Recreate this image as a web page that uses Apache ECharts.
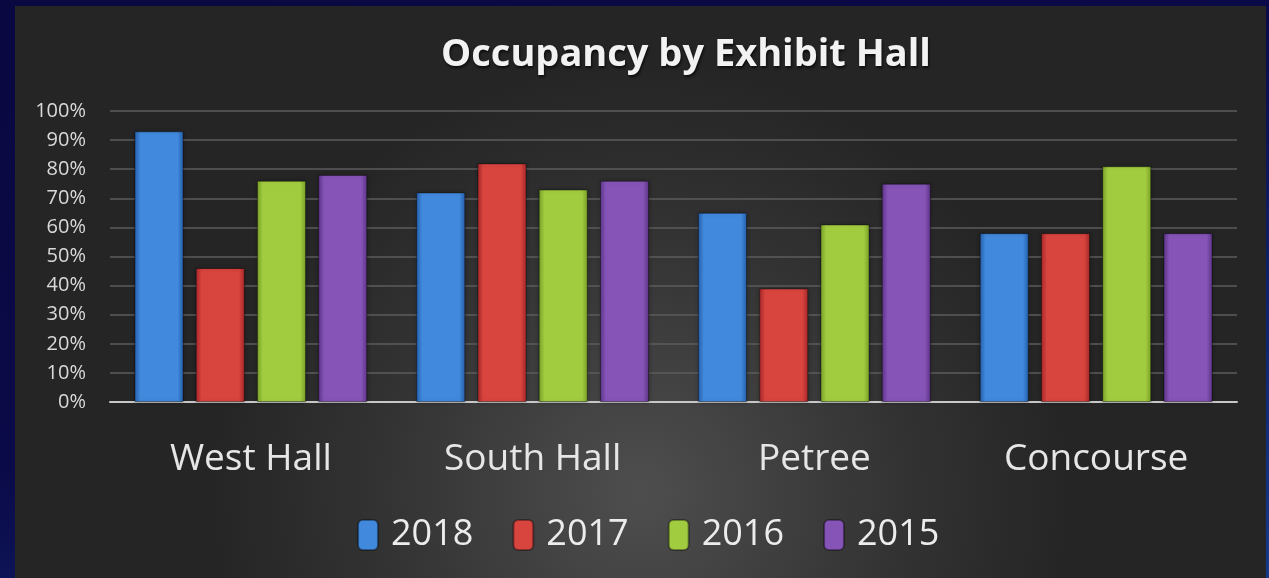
<!DOCTYPE html>
<html>
<head>
<meta charset="utf-8">
<script src="https://cdn.jsdelivr.net/npm/echarts@6/dist/echarts.min.js"></script>
<style>
  html, body {
    margin: 0;
    padding: 0;
    width: 1269px;
    height: 578px;
    overflow: hidden;
    background: linear-gradient(160deg, #0a0840 0%, #0b0a48 45%, #143a8a 100%);
  }
  #chart {
    position: absolute;
    left: 15px;
    top: 6px;
    width: 1251px;
    height: 572px;
  }
</style>
</head>
<body>
<div id="chart"></div>
<script>
// values (percent)
const halls = ["West Hall", "South Hall", "Petree", "Concourse"];
const years = ["2018", "2017", "2016", "2015"];
const occ2018 = [93, 72, 65, 58];
const occ2017 = [46, 82, 39, 58];
const occ2016 = [76, 73, 61, 81];
const occ2015 = [78, 76, 75, 58];
const yTicks = [0, 10, 20, 30, 40, 50, 60, 70, 80, 90, 100];

// [edge, middle] shades for each year
const shades = [
  ["#2660ae", "#4189dc"],
  ["#a8282a", "#d8443e"],
  ["#7aa428", "#a2cc40"],
  ["#5e358a", "#8554b6"],
];

function barFill(edge, mid) {
  return new echarts.graphic.LinearGradient(0, 0, 1, 0, [
    { offset: 0, color: edge },
    { offset: 0.12, color: mid },
    { offset: 0.88, color: mid },
    { offset: 1, color: edge },
  ]);
}

const values = [occ2018, occ2017, occ2016, occ2015];

const series = years.map((y, i) => ({
  name: y,
  type: "bar",
  data: values[i],
  barWidth: 49,
  barGap: "25%",
  itemStyle: {
    color: barFill(shades[i][0], shades[i][1]),
    borderColor: "rgba(0,0,0,0.35)",
    borderWidth: 1,
    shadowColor: "rgba(0,0,0,0.35)",
    shadowBlur: 4,
  },
}));

const chart = echarts.init(document.getElementById("chart"));

chart.setOption({
  animation: false,
  backgroundColor: new echarts.graphic.RadialGradient(0.5, 0.85, 0.75, [
    { offset: 0, color: "#4e4e4e" },
    { offset: 0.6, color: "#333333" },
    { offset: 1, color: "#252525" },
  ]),
  title: {
    text: "Occupancy by Exhibit Hall",
    left: 666,
    top: 25,
    textAlign: "center",
    textStyle: {
      fontFamily: "Open Sans",
      fontWeight: "bold",
      fontSize: 38,
      color: "#f2f2f2",
      textShadowColor: "rgba(0,0,0,0.7)",
      textShadowBlur: 3,
      textShadowOffsetX: 1,
      textShadowOffsetY: 2,
    },
  },
  legend: {
    data: years,
    left: 337,
    top: 506,
    itemWidth: 20,
    itemHeight: 30,
    itemGap: 39,
    textStyle: {
      fontFamily: "Open Sans",
      fontSize: 36,
      color: "#ececec",
      padding: [0, 0, 0, 8],
    },
  },
  grid: {
    left: 95,
    right: 29,
    top: 105,
    bottom: 176,
    containLabel: false,
  },
  xAxis: {
    type: "category",
    data: halls,
    axisTick: { show: false },
    axisLine: { lineStyle: { color: "#c8c8c8", width: 2 } },
    axisLabel: {
      fontFamily: "Open Sans",
      fontSize: 37,
      color: "#e6e6e6",
      margin: 39,
    },
  },
  yAxis: {
    type: "value",
    min: yTicks[0],
    max: yTicks[yTicks.length - 1],
    interval: 10,
    axisLine: { show: false },
    axisTick: { show: false },
    splitLine: { lineStyle: { color: "#5c5c5c", width: 1.5 } },
    axisLabel: {
      fontFamily: "Open Sans",
      fontSize: 20,
      color: "#d9d9d9",
      margin: 24,
      formatter: (v) => v + "%",
    },
  },
  series: series,
});
</script>
</body>
</html>
